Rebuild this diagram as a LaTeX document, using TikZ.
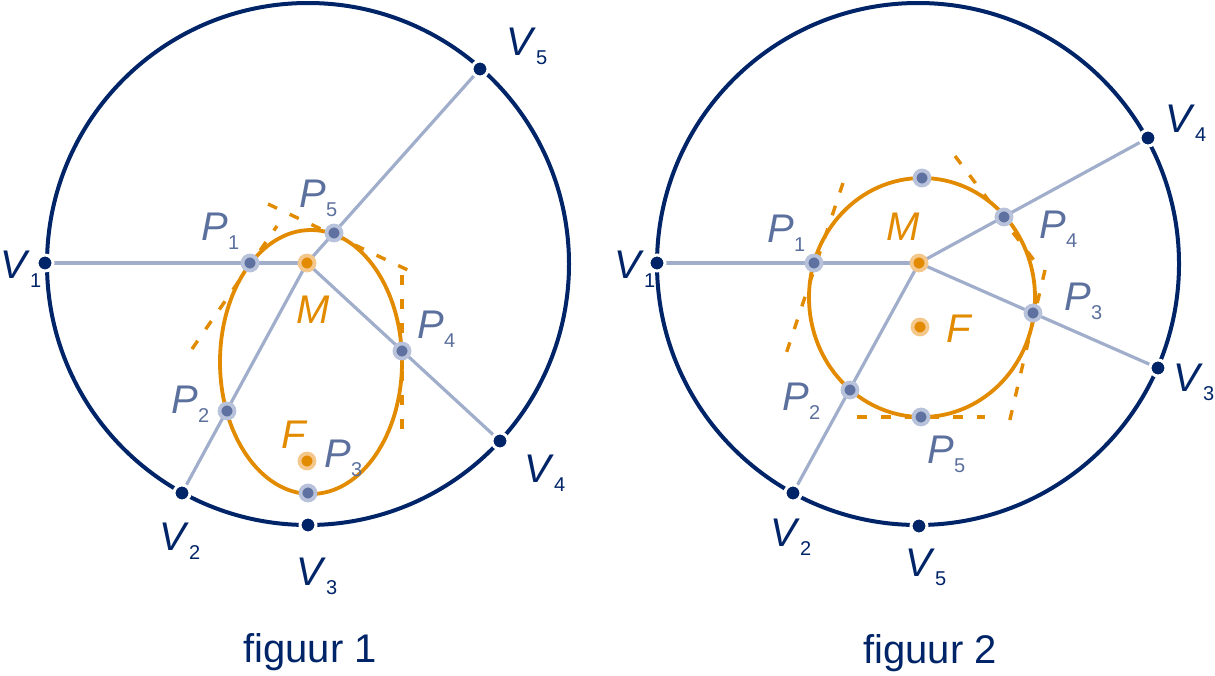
\documentclass[tikz,border=0pt]{standalone}
\usepackage{fontspec}
\setmainfont{Liberation Sans}
\usepackage{xcolor}
\usepackage{tikz}
\usetikzlibrary{positioning,backgrounds}

\definecolor{navy}{RGB}{0,36,104}
\definecolor{spokegray}{RGB}{160,174,203}
\definecolor{plabel}{RGB}{92,112,158}
\definecolor{pfill}{RGB}{95,113,160}
\definecolor{pring}{RGB}{184,195,219}
\definecolor{orng}{RGB}{226,139,0}
\definecolor{oring}{RGB}{244,200,140}

\newcommand{\lab}[2]{\textit{#1}\raisebox{-4.5pt}{\fontsize{10}{11}\selectfont #2}}

\begin{document}
\begin{tikzpicture}[x=0.5pt,y=-0.5pt,
  rim/.style={draw=navy,line width=2pt},
  spoke/.style={draw=spokegray,line width=1.6pt},
  tangent/.style={draw=orng,line width=1.7pt,dash pattern=on 5pt off 7pt},
  curve/.style={draw=orng,line width=1.9pt},
  vdot/.style={circle,fill=navy,draw=white,line width=1.5pt,minimum size=8pt,inner sep=0pt},
  pdot/.style={circle,fill=pfill,draw=pring,line width=1.9pt,minimum size=7.5pt,inner sep=0pt},
  odot/.style={circle,fill=orng,draw=oring,line width=1.9pt,minimum size=7.5pt,inner sep=0pt},
  vlab/.style={anchor=base west,inner sep=0pt,text=navy,font=\fontsize{20}{22}\selectfont},
  plab/.style={vlab,text=plabel},
  olab/.style={vlab,text=orng},
  caption/.style={anchor=base,inner sep=0pt,text=navy,font=\fontsize{20}{24}\selectfont}]

\useasboundingbox (0,0) rectangle (1215,675);

\node[vdot] (Va1) at (45,263) {};
\node[vdot] (Va2) at (182,493) {};
\node[vdot] (Va3) at (308,525) {};
\node[vdot] (Va4) at (500,441) {};
\node[vdot] (Va5) at (480,69) {};
\node[odot] (Ma) at (307,263) {};
\node[odot] (Fa) at (307,461) {};
\node[pdot] (Pa1) at (250,263) {};
\node[pdot] (Pa2) at (227,411) {};
\node[pdot] (Pa3) at (308,493) {};
\node[pdot] (Pa4) at (402,351) {};
\node[pdot] (Pa5) at (334,233) {};

\node[vlab] (lVa1) at (0,278) {\lab{V}{1}};
\node[vlab] (lVa2) at (159,550) {\lab{V}{2}};
\node[vlab] (lVa3) at (296,585) {\lab{V}{3}};
\node[vlab] (lVa4) at (524,482) {\lab{V}{4}};
\node[vlab] (lVa5) at (506,55) {\lab{V}{5}};
\node[plab] (lPa1) at (201,240) {\lab{P}{1}};
\node[plab] (lPa2) at (171,413) {\lab{P}{2}};
\node[plab] (lPa3) at (324,467) {\lab{P}{3}};
\node[plab] (lPa4) at (417,338) {\lab{P}{4}};
\node[plab] (lPa5) at (299,207) {\lab{P}{5}};
\node[olab] (lMa) at (296,323) {\textit{M}};
\node[olab] (lFa) at (281,448) {\textit{F}};
\node[caption] (capa) at (310,662) {figuur 1};

\node[vdot] (Vb1) at (657,263) {};
\node[vdot] (Vb2) at (793,493) {};
\node[vdot] (Vb3) at (1158,368) {};
\node[vdot] (Vb4) at (1148,138) {};
\node[vdot] (Vb5) at (919,526) {};
\node[odot] (Mb) at (919,263) {};
\node[odot] (Fb) at (920,327) {};
\node[pdot] (Pb1) at (814,263) {};
\node[pdot] (Pb2) at (850,390) {};
\node[pdot] (Pb3) at (1033,313) {};
\node[pdot] (Pb4) at (1004,217) {};
\node[pdot] (Pb5) at (921,417) {};
\node[pdot] (Tb) at (922,178) {};

\node[vlab] (lVb1) at (614,278) {\lab{V}{1}};
\node[vlab] (lVb2) at (770,546) {\lab{V}{2}};
\node[vlab] (lVb3) at (1173,391) {\lab{V}{3}};
\node[vlab] (lVb4) at (1165,132) {\lab{V}{4}};
\node[vlab] (lVb5) at (905,576) {\lab{V}{5}};
\node[plab] (lPb1) at (767,242) {\lab{P}{1}};
\node[plab] (lPb2) at (782,410) {\lab{P}{2}};
\node[plab] (lPb3) at (1064,310) {\lab{P}{3}};
\node[plab] (lPb4) at (1039,238) {\lab{P}{4}};
\node[plab] (lPb5) at (927,463) {\lab{P}{5}};
\node[olab] (lMb) at (886,240) {\textit{M}};
\node[olab] (lFb) at (946,342) {\textit{F}};
\node[caption] (capb) at (930,663) {figuur 2};

\begin{scope}[on background layer]
\draw[rim] (308,264) circle [radius=261];
\draw[spoke] (Ma.center) -- (Va1.center);
\draw[spoke] (Ma.center) -- (Va2.center);
\draw[spoke] (Ma.center) -- (Va4.center);
\draw[spoke] (Ma.center) -- (Va5.center);
\draw[tangent] (192,349) -- (277,226);
\draw[tangent] (268,204) -- (412,272);
\draw[tangent] (402,275) -- (402,432);
\draw[curve] (311,362) ellipse [x radius=91, y radius=132];

\draw[rim] (918,264) circle [radius=261];
\draw[spoke] (Mb.center) -- (Vb1.center);
\draw[spoke] (Mb.center) -- (Vb2.center);
\draw[spoke] (Mb.center) -- (Vb3.center);
\draw[spoke] (Mb.center) -- (Vb4.center);
\draw[tangent] (843,183) -- (783,363);
\draw[tangent] (955,156) -- (1036,263);
\draw[tangent] (1045,270) -- (1007,432);
\draw[tangent] (857,417) -- (985,417);
\draw[curve] (922,297.5) ellipse [x radius=113, y radius=119.5];
\end{scope}

\end{tikzpicture}
\end{document}
